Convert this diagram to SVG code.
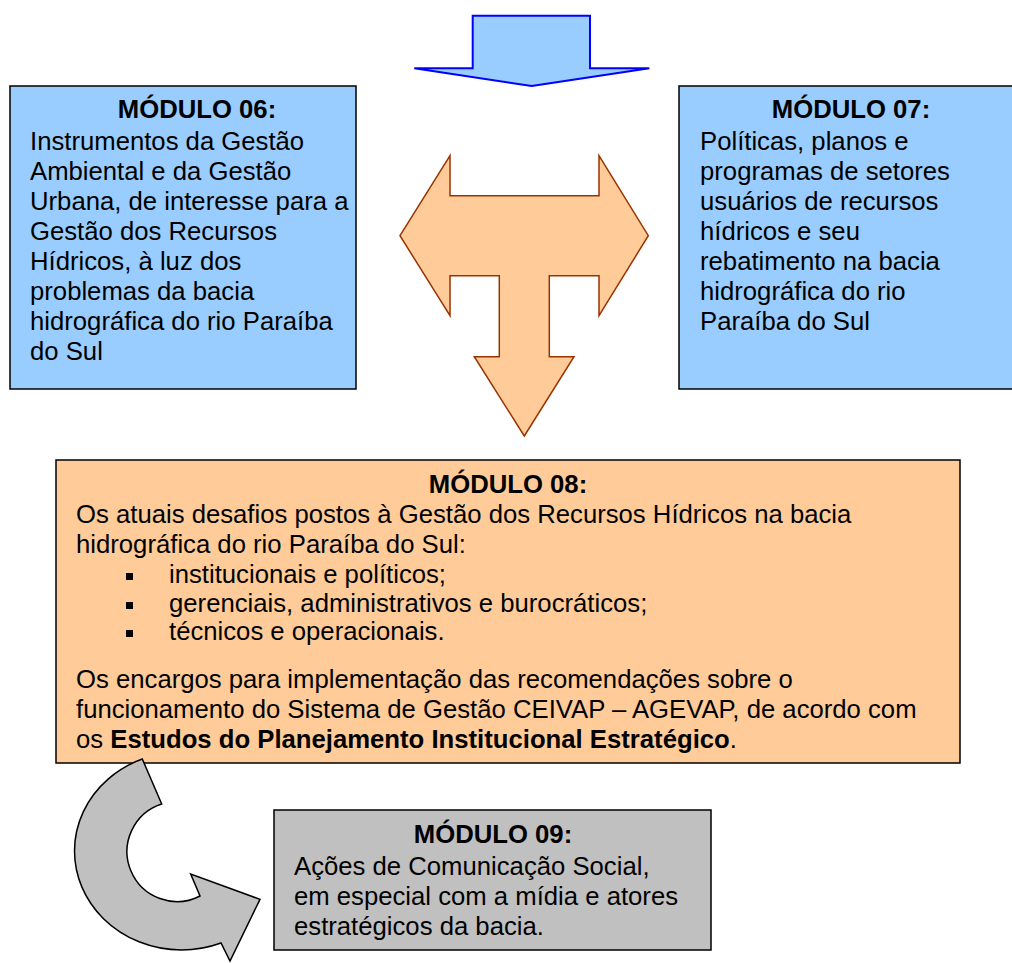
<svg xmlns="http://www.w3.org/2000/svg" width="1012" height="963" viewBox="0 0 1012 963">
<style>
.t{font-family:"Liberation Sans",Arial,sans-serif;font-size:25.7px;fill:#000}
.b{font-weight:bold}
.m{text-anchor:middle}
.box{stroke:#000;stroke-width:1.5}
</style>
<rect width="1012" height="963" fill="#fff"/>
<g id="modulo06">
<rect class="box" x="10" y="86" width="346" height="303" fill="#99CCFF"/>
<text class="t b m" x="197" y="118">MÓDULO 06:</text>
<text class="t" x="30"><tspan x="30" y="150">Instrumentos da Gestão</tspan><tspan x="30" y="180">Ambiental e da Gestão</tspan><tspan x="30" y="210">Urbana, de interesse para a</tspan><tspan x="30" y="240">Gestão dos Recursos</tspan><tspan x="30" y="270">Hídricos, à luz dos</tspan><tspan x="30" y="300">problemas da bacia</tspan><tspan x="30" y="330">hidrográfica do rio Paraíba</tspan><tspan x="30" y="360">do Sul</tspan></text>
</g>
<g id="modulo07">
<rect class="box" x="679" y="86" width="345" height="303" fill="#99CCFF"/>
<text class="t b m" x="851" y="118">MÓDULO 07:</text>
<text class="t"><tspan x="700" y="150">Políticas, planos e</tspan><tspan x="700" y="180">programas de setores</tspan><tspan x="700" y="210">usuários de recursos</tspan><tspan x="700" y="240">hídricos e seu</tspan><tspan x="700" y="270">rebatimento na bacia</tspan><tspan x="700" y="300">hidrográfica do rio</tspan><tspan x="700" y="330">Paraíba do Sul</tspan></text>
</g>
<g id="modulo08">
<rect class="box" x="56" y="460" width="904" height="303" fill="#FFCC99"/>
<text class="t b m" x="508" y="493">MÓDULO 08:</text>
<text class="t"><tspan x="76" y="523">Os atuais desafios postos à Gestão dos Recursos Hídricos na bacia</tspan><tspan x="76" y="553">hidrográfica do rio Paraíba do Sul:</tspan></text>
<rect x="126" y="573" width="7" height="7" fill="#000"/>
<rect x="126" y="602" width="7" height="7" fill="#000"/>
<rect x="126" y="630" width="7" height="7" fill="#000"/>
<text class="t"><tspan x="169" y="583">institucionais e políticos;</tspan><tspan x="169" y="612">gerenciais, administrativos e burocráticos;</tspan><tspan x="169" y="640">técnicos e operacionais.</tspan></text>
<text class="t"><tspan x="76" y="688">Os encargos para implementação das recomendações sobre o</tspan><tspan x="76" y="718">funcionamento do Sistema de Gestão CEIVAP – AGEVAP, de acordo com</tspan><tspan x="76" y="748">os <tspan class="b">Estudos do Planejamento Institucional Estratégico</tspan>.</tspan></text>
</g>
<g id="modulo09">
<rect class="box" x="274" y="810" width="437" height="140" fill="#C0C0C0"/>
<text class="t b m" x="493" y="843">MÓDULO 09:</text>
<text class="t"><tspan x="294" y="875">Ações de Comunicação Social,</tspan><tspan x="294" y="905">em especial com a mídia e atores</tspan><tspan x="294" y="935">estratégicos da bacia.</tspan></text>
</g>
<g id="connectors">
<path id="top-arrow" d="M472.7,15.7 H590 V68.3 H649.3 L531.7,86 L414.3,68.3 H472.7 Z" fill="#99CCFF" stroke="#0000FF" stroke-width="2"/>
<path id="t-arrow" d="M400,235.7 L450,155.7 V195.7 H599 V155.7 L648.3,235.7 L599,315.7 V275.7 H549.3 V356.7 H574 L524.3,436 L474.3,356.7 H499.3 V275.7 H450 V315.7 Z" fill="#FFCC99" stroke="#993300" stroke-width="1.5"/>
<path id="curved-arrow" d="M142.3,759 A105,97 0 1 0 221,943 L230,961 L260,899.3 L190.7,874 L200,896 A50,50 0 1 1 161.7,804 Z" fill="#C0C0C0" stroke="#000" stroke-width="1.5"/>
</g>
</svg>
